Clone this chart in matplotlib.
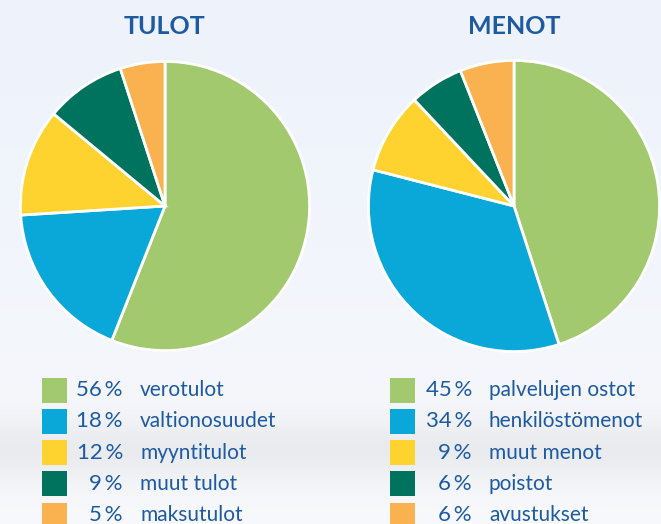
import numpy as np
import matplotlib.pyplot as plt

# data
tulot_labels = ['verotulot', 'valtionosuudet', 'myyntitulot', 'muut tulot', 'maksutulot']
tulot_values = [56, 18, 12, 9, 5]

menot_labels = ['palvelujen ostot', 'henkilöstömenot', 'muut menot', 'poistot', 'avustukset']
menot_values = [45, 34, 9, 6, 6]

colors = ['#a2c96e', '#0aa7d9', '#fed330', '#00735f', '#f9b24f']
text_color = '#1d5aa2'

W, H = 661, 524
plt.rcParams['font.family'] = ['Lato', 'DejaVu Sans']

fig = plt.figure(figsize=(W / 100, H / 100), dpi=100)

# background: soft sky gradient with a faint lake band
bg = fig.add_axes([0, 0, 1, 1])
rows = np.linspace(0, 1, 300)
top = np.array([0.93, 0.95, 0.985])
mid = np.array([0.97, 0.975, 0.985])
grad = np.outer(1 - rows, top) + np.outer(rows, mid)
band = np.exp(-((rows - 0.86) / 0.06) ** 2)[:, None]
grad = grad * (1 - 0.05 * band)
img = np.repeat(grad[:, None, :], 10, axis=1)
bg.imshow(img, aspect='auto', extent=[0, 1, 0, 1])
bg.set_axis_off()


def draw_pie(cx, cy, r, values, title):
    ax = fig.add_axes([(cx - r) / W, (H - cy - r) / H, 2 * r / W, 2 * r / H])
    ax.pie(values, colors=colors, startangle=90, counterclock=False,
           wedgeprops=dict(edgecolor='white', linewidth=2))
    ax.set_xlim(-1.01, 1.01)
    ax.set_ylim(-1.01, 1.01)
    ax.set_axis_off()
    fig.text(cx / W, 1 - 26 / H, title, ha='center', va='center',
             fontsize=18, fontweight='bold', color=text_color)


def draw_legend(sq_x, pct_right, lab_x, values, labels):
    for i, (v, lab) in enumerate(zip(values, labels)):
        yc = 390 + i * 31.3
        fig.patches.append(plt.Rectangle((sq_x / W, 1 - (yc + 12.5) / H), 25 / W, 25 / H,
                                         transform=fig.transFigure, facecolor=colors[i],
                                         edgecolor='none'))
        fig.text(pct_right / W, 1 - yc / H, f'{v}\u2009%', ha='right', va='center',
                 fontsize=16, color=text_color)
        fig.text(lab_x / W, 1 - yc / H, lab, ha='left', va='center',
                 fontsize=15, color=text_color)


draw_pie(165, 206, 146, tulot_values, 'TULOT')
draw_pie(514, 206, 147, menot_values, 'MENOT')
draw_legend(42, 123, 140, tulot_values, tulot_labels)
draw_legend(390, 472, 489, menot_values, menot_labels)

fig.savefig('out.png', dpi=100)
